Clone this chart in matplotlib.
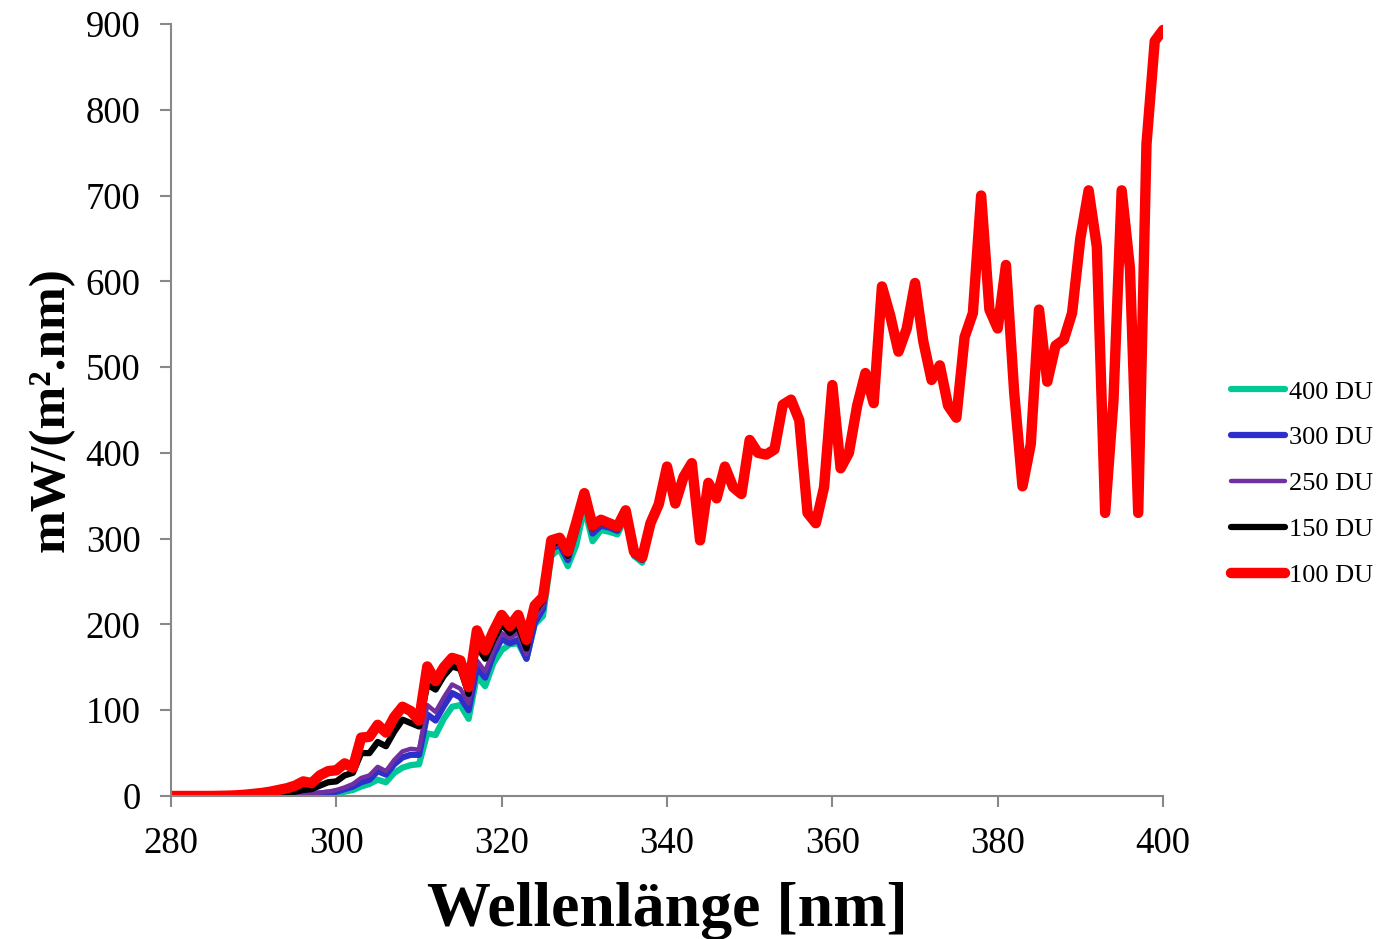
import numpy as np
import matplotlib
matplotlib.use("Agg")
import matplotlib.pyplot as plt

plt.rcParams['font.family'] = ['Liberation Serif', 'DejaVu Serif']

# wavelength in nm, one value per nm
wavelength = list(range(280, 401))

# 100 DU (full range)
du100 = [0, 0, 0, 0, 0, 0, 0.2, 0.4, 0.8, 1.5,
         2.5, 3.5, 5, 7, 9, 12, 17, 15, 24, 29,
         30, 38, 33, 68, 69, 83, 74, 92, 104, 99,
         88, 151, 134, 150, 161, 158, 127, 193, 170, 192,
         211, 198, 211, 182, 222, 232, 298, 301, 285, 318,
         353, 315, 322, 318, 314, 333, 285, 278, 318, 340,
         384, 341, 372, 388, 298, 365, 347, 384, 360, 352,
         415, 400, 398, 404, 456, 462, 438, 330, 318, 360,
         479, 382, 400, 455, 493, 458, 594, 560, 518, 545,
         598, 530, 485, 502, 455, 441, 535, 563, 700, 567,
         545, 619, 470, 361, 410, 567, 483, 525, 532, 563,
         650, 706, 640, 330, 460, 706, 615, 330, 760, 880,
         893]

# higher ozone columns only differ below ~338 nm (280..337)
du150_low = [0, 0, 0, 0, 0, 0, 0, 0.1, 0.2, 0.4,
             0.8, 1.2, 2, 3, 4, 5, 7, 8, 12, 16,
             17, 24, 27, 50, 50, 63, 58, 75, 89, 85,
             81, 130, 124, 140, 151, 148, 119, 175, 160, 182,
             200, 190, 198, 172, 215, 228, 293, 297, 280, 314,
             350, 312, 319, 316, 312, 331, 283, 276]
du250_low = [0, 0, 0, 0, 0, 0, 0, 0, 0, 0,
             0.1, 0.2, 0.4, 0.6, 1, 1.5, 2.5, 3, 4, 5,
             7, 10, 14, 21, 24, 34, 29, 42, 52, 55,
             54, 106, 98, 115, 130, 125, 108, 158, 145, 170,
             190, 184, 190, 165, 207, 222, 290, 295, 278, 312,
             349, 310, 318, 315, 311, 330, 282, 276]
du300_low = [0, 0, 0, 0, 0, 0, 0, 0, 0, 0,
             0, 0.1, 0.2, 0.4, 0.6, 1, 1.5, 2, 3, 4,
             5, 8, 11, 16, 19, 29, 25, 37, 45, 48,
             48, 95, 88, 105, 120, 115, 100, 150, 138, 165,
             183, 178, 182, 160, 202, 218, 288, 293, 275, 308,
             346, 306, 315, 313, 309, 328, 281, 275]
du400_low = [0, 0, 0, 0, 0, 0, 0, 0, 0, 0,
             0, 0, 0.1, 0.2, 0.3, 0.5, 0.8, 1.2, 2, 3,
             3.5, 5, 7, 11, 14, 19, 16, 27, 33, 36,
             37, 73, 71, 90, 104, 106, 90, 140, 128, 155,
             170, 177, 178, 160, 200, 210, 280, 288, 268, 292,
             336, 297, 310, 308, 305, 325, 280, 272]

n_low = len(du400_low)
du150 = du150_low + du100[n_low:]
du250 = du250_low + du100[n_low:]
du300 = du300_low + du100[n_low:]
du400 = du400_low + du100[n_low:]

series = [
    ('400 DU', du400, '#00C995', 4.5),
    ('300 DU', du300, '#2E2ECC', 4.5),
    ('250 DU', du250, '#7030A0', 3.2),
    ('150 DU', du150, '#000000', 4.5),
    ('100 DU', du100, '#FF0000', 7.5),
]

fig = plt.figure(figsize=(13.77, 9.39), dpi=100)
ax = fig.add_axes([0.1242, 0.1523, 0.7204, 0.8222])

for label, vals, color, lw in series:
    ax.plot(wavelength, vals, color=color, lw=lw, label=label,
            solid_joinstyle='round', solid_capstyle='round')

ax.set_xlim(280, 400)
ax.set_ylim(0, 900)
ax.set_xticks(range(280, 401, 20))
ax.set_yticks(range(0, 901, 100))

for s in ['top', 'right']:
    ax.spines[s].set_visible(False)
for s in ['left', 'bottom']:
    ax.spines[s].set_color('#888888')
    ax.spines[s].set_linewidth(1.5)

ax.tick_params(axis='y', direction='out', length=8, width=1.5, color='#888888',
               labelsize=26.5, pad=14)
ax.tick_params(axis='x', direction='out', length=8, width=1.5, color='#888888',
               labelsize=26.5, pad=14)

ax.set_xlabel('Wellenlänge [nm]', fontsize=46, fontweight='bold', labelpad=15)
ax.set_ylabel('mW/(m².nm)', fontsize=37, fontweight='bold', labelpad=8)

fig.legend(loc='center left', bbox_to_anchor=(0.894, 0.485), frameon=False,
           fontsize=19, handlelength=2.05, handletextpad=0.15,
           labelspacing=0.85, borderpad=0, borderaxespad=0)

fig.savefig('out.png', dpi=100)
